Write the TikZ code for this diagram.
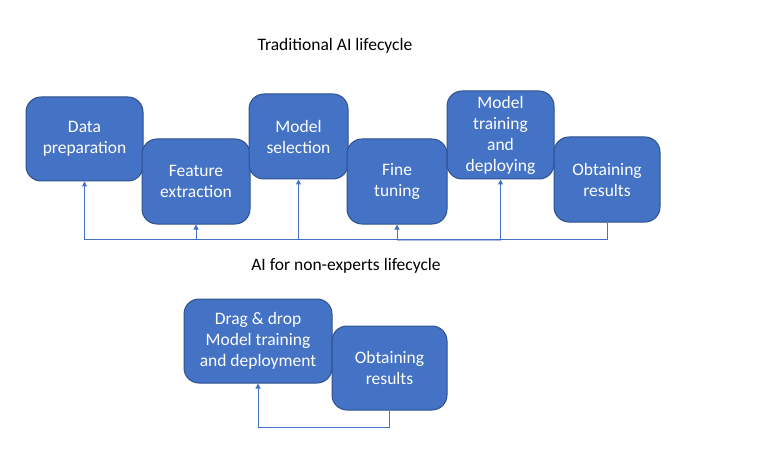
\documentclass[tikz,border=0pt]{standalone}
\usepackage{fontspec}
\setmainfont{Carlito}
\usetikzlibrary{arrows.meta,calc}
\definecolor{boxfill}{HTML}{4472C4}
\definecolor{boxline}{HTML}{2F528F}
\definecolor{buslight}{HTML}{A9BCE3}
\tikzset{
  stage/.style={draw=boxline, line width=1pt, fill=boxfill, rounded corners=15pt,
    text=white, align=center, font=\fontsize{17.5}{21}\selectfont, inner sep=0pt},
  title/.style={font=\fontsize{17.5}{20}\selectfont, text=black},
  link/.style={draw=boxfill, line width=1pt},
  arr/.style={link, -{Triangle[length=5pt,width=5pt]}}
}
\begin{document}
\begin{tikzpicture}[x=1pt, y=-1pt]
		\useasboundingbox (0,0) rectangle (773,457);
		
		%%%%% TRADITIONAL %%%%%
		\node[title] (toptitle) at (335,46) {Traditional AI lifecycle};
		
		\node[stage, minimum width=117pt, minimum height=84pt] (dataprep) at (84.5,139) {Data\\preparation};
		\node[stage, minimum width=108pt, minimum height=85pt] (featext) at (196,181.5) {Feature\\extraction};
		\node[stage, minimum width=99pt, minimum height=85pt] (modelsel) at (298.5,136.5) {Model\\selection};
		\node[stage, minimum width=100pt, minimum height=85pt] (finetune) at (397,181.5) {Fine\\tuning};
		\node[stage, minimum width=107pt, minimum height=88pt] (modeltrain) at (500.5,135) {Model\\training\\and\\deploying};
		\node[stage, minimum width=106pt, minimum height=85pt] (obtain) at (607,179.5) {Obtaining\\results};
		
		\coordinate (busR) at (607,239);
		\coordinate (busL) at (84.5,239);
		\draw[buslight, line width=2pt] ($(finetune.south |- busR)+(0,1)$) -- ($(modeltrain.south |- busR)+(0,1)$);
		\draw[arr] (obtain.south) -- (busR) -- (busL) -- (dataprep.south);
		\draw[arr] (featext.south |- busL) -- (featext.south);
		\draw[arr] (modelsel.south |- busL) -- (modelsel.south);
		\draw[arr] (finetune.south |- busL) -- (finetune.south);
		\draw[arr] (modeltrain.south |- busL) -- (modeltrain.south);
		
		%%%%% NON-EXPERTS %%%%%
		\node[title] (lowtitle) at (346,266) {AI for non-experts lifecycle};
		
		\node[stage, minimum width=148pt, minimum height=84pt] (dragdrop) at (258,341) {Drag \& drop\\Model training\\and deployment};
		\node[stage, minimum width=115pt, minimum height=84pt] (obtainb) at (389.5,368) {Obtaining\\results};
		
		\coordinate (loopR) at (389.5,427);
		\draw[arr] (obtainb.south) -- (loopR) -- (loopR -| dragdrop.south) -- (dragdrop.south);
\end{tikzpicture}
\end{document}
